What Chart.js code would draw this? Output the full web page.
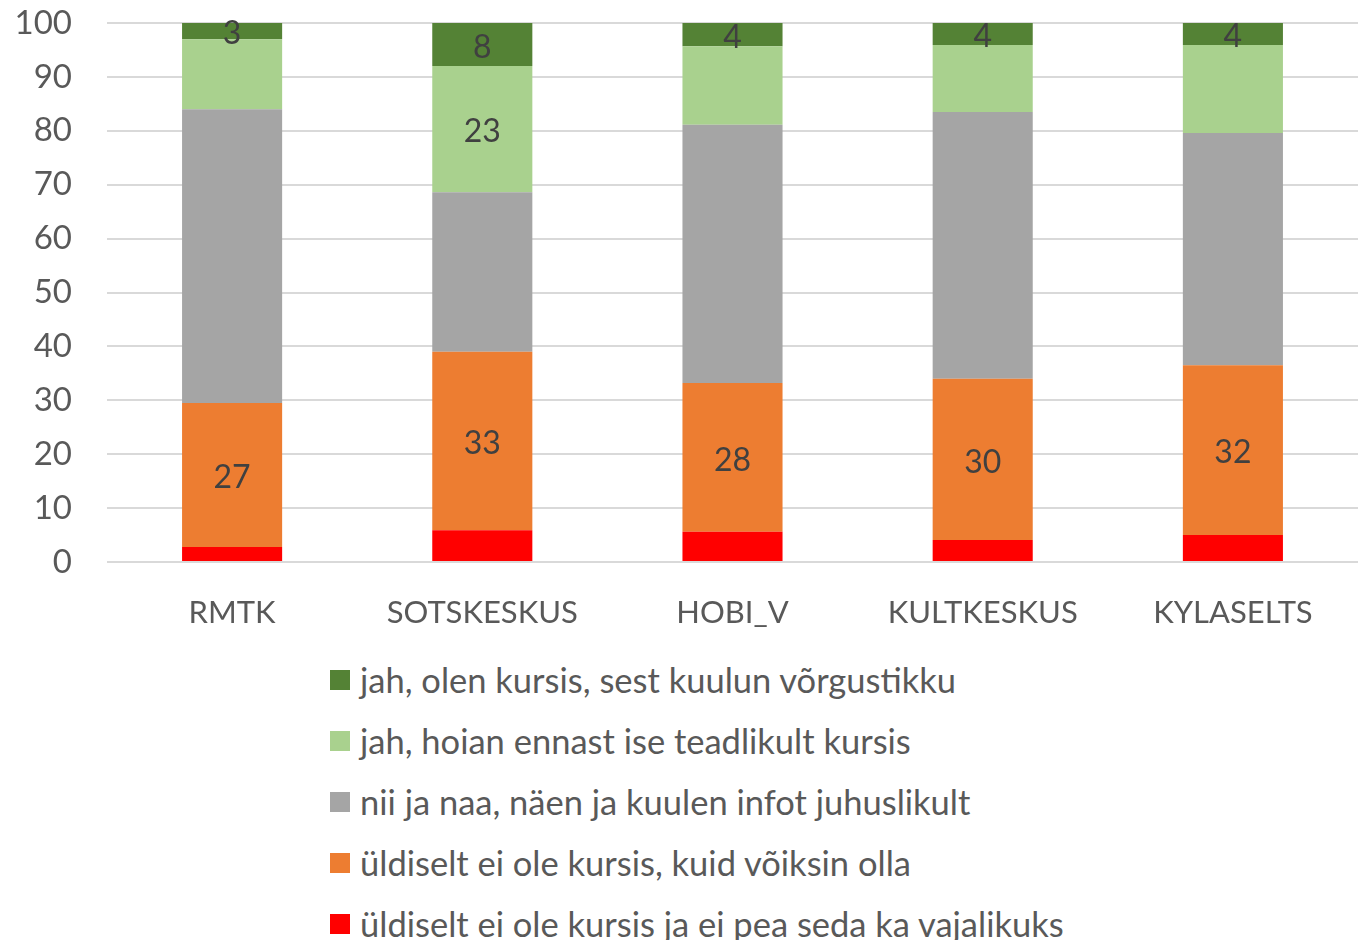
<!DOCTYPE html>
<html>
<head>
<meta charset="utf-8">
<script src="https://cdn.jsdelivr.net/npm/chart.js@4/dist/chart.umd.min.js"></script>
<style>
  html, body { margin: 0; padding: 0; background: #fff; }
  body { width: 1365px; height: 940px; overflow: hidden; font-family: Lato, "Open Sans", sans-serif; }
  #wrap { position: relative; width: 1365px; height: 640px; }
  #legend { position: absolute; left: 330px; top: 649px; margin: 0; padding: 0; list-style: none; }
  #legend li { height: 61px; display: flex; align-items: center; color: #595959; font-size: 34.5px; white-space: nowrap; }
  #legend span.box { display: inline-block; width: 20px; height: 20px; margin-right: 10px; }
</style>
</head>
<body>
<div id="wrap"><canvas id="chart"></canvas></div>
<ul id="legend"></ul>
<script>
const categories = ["RMTK", "SOTSKESKUS", "HOBI_V", "KULTKESKUS", "KYLASELTS"];

const seriesNames = [
  "üldiselt ei ole kursis ja ei pea seda ka vajalikuks",
  "üldiselt ei ole kursis, kuid võiksin olla",
  "nii ja naa, näen ja kuulen infot juhuslikult",
  "jah, hoian ennast ise teadlikult kursis",
  "jah, olen kursis, sest kuulun võrgustikku"
];

const notNeeded = [2.8, 5.9, 5.6, 4.1, 5.0];
const couldBe = [26.7, 33.1, 27.6, 29.9, 31.5];
const sometimes = [54.5, 29.6, 47.9, 49.5, 43.1];
const selfAware = [13.0, 23.4, 14.6, 12.4, 16.3];
const network = [3.0, 8.0, 4.3, 4.1, 4.1];

// which segments carry a value label (same order as the series)
const showLabels = [
  [false, false, false, false, false],
  [true, true, true, true, true],
  [false, false, false, false, false],
  [false, true, false, false, false],
  [true, true, true, true, true]
];

const yTicks = [0, 10, 20, 30, 40, 50, 60, 70, 80, 90, 100];

const colors = ["#FF0000", "#ED7D31", "#A5A5A5", "#A9D18E", "#548235"];
const seriesValues = [notNeeded, couldBe, sometimes, selfAware, network];

const FONT = "Lato, 'Open Sans', sans-serif";

const segmentLabels = {
  id: "segmentLabels",
  afterDatasetsDraw(chart) {
    const ctx = chart.ctx;
    ctx.save();
    ctx.font = "32px " + FONT;
    ctx.fillStyle = "#404040";
    ctx.textAlign = "center";
    ctx.textBaseline = "middle";
    chart.data.datasets.forEach((ds, di) => {
      const meta = chart.getDatasetMeta(di);
      meta.data.forEach((bar, i) => {
        if (!showLabels[di][i]) return;
        const cy = (bar.y + bar.base) / 2 + 3;
        ctx.fillText(String(Math.round(ds.data[i])), bar.x, cy);
      });
    });
    ctx.restore();
  }
};

const canvas = document.getElementById("chart");
const chart = new Chart(canvas.getContext("2d"), {
  type: "bar",
  data: {
    labels: categories,
    datasets: seriesValues.map((values, i) => ({
      label: seriesNames[i],
      data: values,
      backgroundColor: colors[i],
      borderWidth: 0,
      barPercentage: 0.4,
      categoryPercentage: 1.0
    }))
  },
  options: {
    responsive: true,
    maintainAspectRatio: false,
    animation: false,
    layout: { padding: { top: 23, right: 7, left: 0, bottom: 0 } },
    scales: {
      x: {
        stacked: true,
        grid: { display: false, drawTicks: false },
        border: { display: false },
        ticks: { color: "#595959", font: { family: FONT, size: 31 }, padding: 32 },
        afterFit(axis) { axis.height = 78; axis.paddingLeft = 0; axis.paddingRight = 0; }
      },
      y: {
        stacked: true,
        min: 0,
        max: 100,
        afterBuildTicks(axis) { axis.ticks = yTicks.map(v => ({ value: v })); },
        grid: { color: "#D9D9D9", lineWidth: 2, drawTicks: false },
        border: { display: false },
        ticks: { color: "#595959", font: { family: FONT, size: 33 }, padding: 35 },
        afterFit(axis) { axis.width = 107; axis.paddingTop = 0; axis.paddingBottom = 0; }
      }
    },
    plugins: {
      legend: { display: false },
      tooltip: { enabled: false }
    }
  },
  plugins: [segmentLabels]
});

// legend listed top-down, matching the stack order
const legendEl = document.getElementById("legend");
chart.data.datasets.slice().reverse().forEach(ds => {
  const li = document.createElement("li");
  const box = document.createElement("span");
  box.className = "box";
  box.style.background = ds.backgroundColor;
  li.appendChild(box);
  li.appendChild(document.createTextNode(ds.label));
  legendEl.appendChild(li);
});
</script>
</body>
</html>
